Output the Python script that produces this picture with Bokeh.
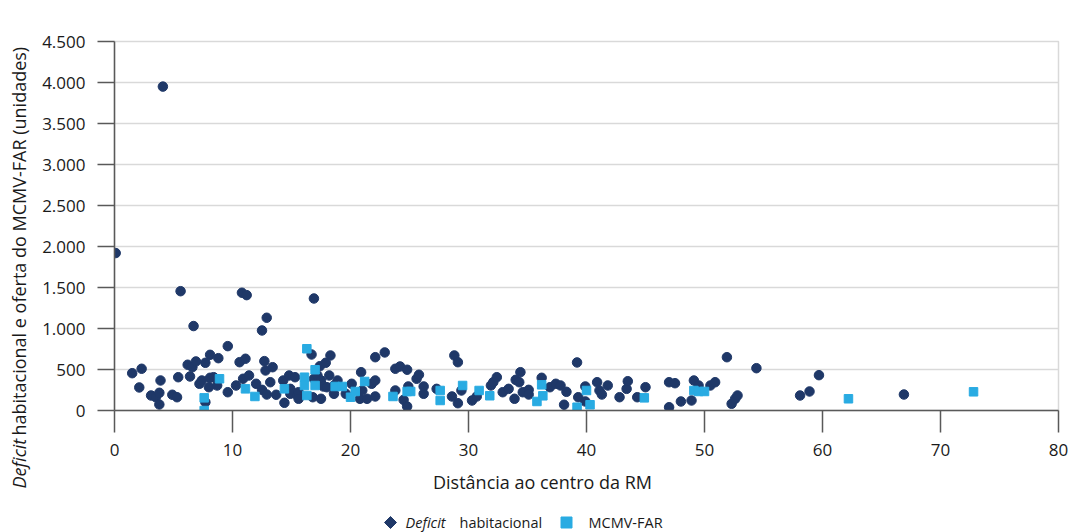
import math
from bokeh.plotting import figure
from bokeh.layouts import row, column
from bokeh.models import Range1d, FixedTicker, ColumnDataSource
from bokeh.core.properties import value
from bokeh.embed import file_html
from bokeh.resources import INLINE

# ---------------- data ----------------
deficit_x = [0.1, 1.5, 2.1, 2.3, 3.1, 3.5, 3.8, 3.8, 3.9, 4.1, 4.9, 5.3, 5.4, 5.6, 6.2, 6.4, 6.6, 6.7,
             6.9, 7.2, 7.4, 7.7, 7.7, 8.0, 8.1, 8.1, 8.4, 8.7, 8.8, 9.6, 9.6, 10.3, 10.6, 10.8, 10.9,
             11.1, 11.2, 11.4, 12.0, 12.5, 12.5, 12.7, 12.8, 12.9, 12.9, 13.2, 13.4, 13.7, 14.3, 14.4,
             14.8, 14.9, 14.9, 15.3, 15.5, 15.6, 15.6, 16.7, 16.8, 16.9, 16.9, 17.2, 17.4, 17.5, 17.5,
             17.7, 17.9, 18.0, 18.2, 18.3, 18.6, 18.6, 18.9, 19.6, 20.1, 20.8, 20.9, 21.0, 21.4, 21.8,
             22.1, 22.1, 22.1, 22.9, 23.8, 23.8, 24.2, 24.5, 24.8, 24.8, 24.9, 25.6, 25.8, 26.2, 26.2,
             27.3, 28.6, 28.8, 29.1, 29.1, 29.4, 30.3, 30.7, 31.9, 32.1, 32.4, 32.9, 33.4, 33.9, 34.0,
             34.3, 34.4, 34.6, 35.1, 35.1, 36.2, 36.9, 37.4, 37.8, 38.1, 38.3, 39.2, 39.3, 39.9, 39.9,
             40.9, 41.1, 41.3, 41.8, 42.8, 43.4, 43.5, 44.3, 45.0, 47.0, 47.0, 47.5, 48.0, 48.9, 49.1,
             49.5, 50.5, 50.9, 51.9, 52.3, 52.6, 52.8, 54.4, 58.1, 58.9, 59.7, 66.9]
deficit_y = [1920, 455, 281, 509, 183, 162, 216, 73, 366, 3950, 192, 162, 406, 1455, 558, 415, 528, 1030,
             598, 326, 366, 582, 101, 284, 399, 679, 406, 305, 638, 223, 785, 305, 589, 1436, 387,
             631, 1407, 427, 326, 976, 252, 602, 488, 1131, 195, 345, 528, 192, 366, 94,
             427, 264, 204, 406, 183, 223, 143, 683, 162, 1366, 387, 427, 540, 366, 143,
             293, 582, 284, 427, 671, 305, 204, 366, 204, 326, 143, 467, 244, 143, 326,
             366, 650, 171, 708, 509, 244, 537, 130, 497, 49, 293, 387, 436, 293, 204,
             264, 171, 671, 589, 89, 244, 122, 171, 305, 345, 406, 223, 264, 143, 374,
             345, 467, 223, 252, 195, 399, 284, 326, 305, 70, 228, 586, 162, 293, 110,
             345, 244, 195, 305, 162, 264, 357, 162, 284, 345, 40, 333, 110, 122, 366,
             305, 305, 345, 650, 82, 143, 183, 516, 183, 232, 431, 195]

mcmv_x = [7.6, 7.6, 8.9, 11.1, 11.9, 14.4, 16.1, 16.1, 16.3, 16.3, 17.0, 17.0, 18.7, 19.3, 20.0, 20.4,
          21.2, 23.6, 24.8, 25.1, 27.6, 27.6, 29.5, 30.9, 31.8, 35.8, 36.2, 36.3, 39.2, 40.0, 40.3,
          44.9, 49.1, 49.5, 50.0, 62.2, 72.8]
mcmv_y = [154, 0, 387, 264, 171, 264, 406, 305, 753, 183, 497, 305, 293, 293, 162, 232,
          354, 171, 232, 232, 244, 122, 305, 244, 180, 110, 313, 179, 40, 244, 70,
          154, 244, 232, 232, 143, 228]

x_ticks = [0, 10, 20, 30, 40, 50, 60, 70, 80]
y_ticks = [0, 500, 1000, 1500, 2000, 2500, 3000, 3500, 4000, 4500]
y_tick_labels = ["0", "500", "1.000", "1.500", "2.000", "2.500", "3.000", "3.500", "4.000", "4.500"]

legend_italic = "Deficit"
legend_rest = "habitacional"
legend_mcmv = "MCMV-FAR"
y_title_italic = "Deficit"
y_title_rest = "habitacional e oferta do MCMV-FAR (unidades)"
x_title = "Distância ao centro da RM"

NAVY = "#1f3868"
CYAN = "#29abe2"
FONT = "Open Sans"
TXT = "#1a1a1a"

W, H = 1072, 532
LEFT_W = 34
MAIN_H = 468
FRAME_L, FRAME_R, FRAME_T, FRAME_B = 114, 1058, 41, 410


def blank(width, height, **kw):
    f = figure(width=width, height=height, output_backend="svg", toolbar_location=None,
               x_axis_location=None, y_axis_location=None, **kw)
    f.outline_line_color = None
    f.grid.grid_line_color = None
    f.background_fill_color = "white"
    f.border_fill_color = "white"
    return f


# ---------------- main chart ----------------
p = figure(width=W - LEFT_W, height=MAIN_H, output_backend="svg", toolbar_location=None,
           x_range=Range1d(0, 80), y_range=Range1d(0, 4500),
           min_border_left=FRAME_L - LEFT_W, min_border_right=W - FRAME_R, min_border_top=FRAME_T,
           min_border_bottom=MAIN_H - FRAME_B)
p.background_fill_color = "white"
p.border_fill_color = "white"
p.outline_line_color = "#d9d9d9"
p.outline_line_width = 1.5

p.xgrid.grid_line_color = None
p.ygrid.grid_line_color = "#d9d9d9"
p.ygrid.grid_line_width = 1.5

for ax in (p.xaxis[0], p.yaxis[0]):
    ax.axis_line_color = "#595959"
    ax.axis_line_width = 1.5
    ax.major_tick_line_color = "#595959"
    ax.major_tick_line_width = 1.5
    ax.minor_tick_line_color = None
    ax.major_tick_in = 0
    ax.major_label_text_font = FONT
    ax.major_label_text_font_size = "17px"
    ax.major_label_text_color = TXT

p.xaxis.ticker = FixedTicker(ticks=x_ticks)
p.xaxis.major_tick_out = 22
p.xaxis.major_label_standoff = 11
p.yaxis.ticker = FixedTicker(ticks=y_ticks)
p.yaxis.major_label_overrides = {t: l for t, l in zip(y_ticks, y_tick_labels)}
p.yaxis.major_tick_out = 17
p.yaxis.major_label_standoff = 12

src_d = ColumnDataSource(dict(x=deficit_x, y=deficit_y))
src_m = ColumnDataSource(dict(x=mcmv_x, y=mcmv_y))
p.scatter("x", "y", source=src_d, marker="circle", size=9.5, fill_color=NAVY, line_color=NAVY)
p.scatter("x", "y", source=src_m, marker="square", size=8.5, fill_color=CYAN, line_color=CYAN)

# ---------------- y title (left strip) ----------------
lf = blank(LEFT_W, H, x_range=Range1d(0, LEFT_W), y_range=Range1d(0, H), min_border=0)
lf.text(x=[18], y=[H - 488], text=[y_title_italic], angle=math.pi / 2,
        text_font=value(FONT), text_font_size="18px", text_font_style="italic",
        text_color=TXT, text_align="left", text_baseline="middle")
lf.text(x=[18], y=[H - 435], text=[y_title_rest], angle=math.pi / 2,
        text_font=value(FONT), text_font_size="18px",
        text_color=TXT, text_align="left", text_baseline="middle")

# ---------------- x title + legend (bottom strip) ----------------
bh = H - MAIN_H
bf = blank(W - LEFT_W, bh, x_range=Range1d(FRAME_L, FRAME_R), y_range=Range1d(0, bh),
           min_border_left=FRAME_L - LEFT_W, min_border_right=W - FRAME_R,
           min_border_top=0, min_border_bottom=0)
ly = H - 522
bf.text(x=[542], y=[H - 481], text=[x_title], text_font=value(FONT),
        text_font_size="18px", text_color=TXT, text_align="center", text_baseline="middle")
bf.scatter(x=[390], y=[ly], marker="square", angle=math.pi / 4, size=8.5,
           fill_color=NAVY, line_color=NAVY)
bf.text(x=[405], y=[ly], text=[legend_italic], text_font=value(FONT),
        text_font_size="14.5px", text_font_style="italic", text_color=TXT,
        text_align="left", text_baseline="middle")
bf.text(x=[459], y=[ly], text=[legend_rest], text_font=value(FONT),
        text_font_size="14.5px", text_color=TXT, text_align="left", text_baseline="middle")
bf.scatter(x=[566], y=[ly], marker="square", size=11, fill_color=CYAN, line_color=CYAN)
bf.text(x=[588], y=[ly], text=[legend_mcmv], text_font=value(FONT),
        text_font_size="14.5px", text_color=TXT, text_align="left", text_baseline="middle")

layout = row(lf, column(p, bf, spacing=0), spacing=0)
open("out.html", "w").write(file_html(layout, INLINE))
